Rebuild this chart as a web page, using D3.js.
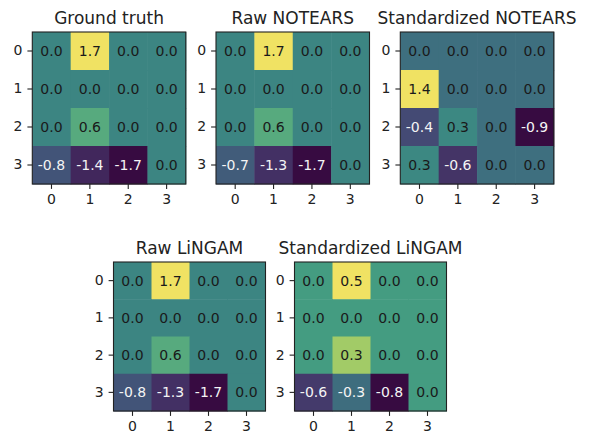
<!DOCTYPE html>
<html>
<head>
  <meta charset="UTF-8">
  <style>
    body {
      margin: 0;
      padding: 0;
      background-color: white;
    }
    svg text {
      font-family: 'DejaVu Sans', sans-serif;
    }
  </style>
</head>
<body>
<svg></svg>
<script src="https://d3js.org/d3.v7.min.js"></script>
<script>
// Adjacency matrices, rows = source index, cols = target index
let indices = [0, 1, 2, 3];
let titles = ["Ground truth", "Raw NOTEARS", "Standardized NOTEARS", "Raw LiNGAM", "Standardized LiNGAM"];

let groundTruth = [
  [0.0, 1.7, 0.0, 0.0],
  [0.0, 0.0, 0.0, 0.0],
  [0.0, 0.6, 0.0, 0.0],
  [-0.8, -1.4, -1.7, 0.0]
];
let rawNotears = [
  [0.0, 1.7, 0.0, 0.0],
  [0.0, 0.0, 0.0, 0.0],
  [0.0, 0.6, 0.0, 0.0],
  [-0.7, -1.3, -1.7, 0.0]
];
let stdNotears = [
  [0.0, 0.0, 0.0, 0.0],
  [1.4, 0.0, 0.0, 0.0],
  [-0.4, 0.3, 0.0, -0.9],
  [0.3, -0.6, 0.0, 0.0]
];
let rawLingam = [
  [0.0, 1.7, 0.0, 0.0],
  [0.0, 0.0, 0.0, 0.0],
  [0.0, 0.6, 0.0, 0.0],
  [-0.8, -1.3, -1.7, 0.0]
];
let stdLingam = [
  [0.0, 0.5, 0.0, 0.0],
  [0.0, 0.0, 0.0, 0.0],
  [0.0, 0.3, 0.0, 0.0],
  [-0.6, -0.3, -0.8, 0.0]
];

let matrices = [groundTruth, rawNotears, stdNotears, rawLingam, stdLingam];

let width = 589, height = 433;
let svg = d3.select("svg")
    .attr("width", width)
    .attr("height", height);

// panel boxes: left, top, width, height
let panels = [
  {x: 32.3, y: 32, w: 153.5, h: 152},
  {x: 216, y: 32, w: 153.5, h: 152},
  {x: 400.3, y: 32, w: 153.5, h: 152},
  {x: 113.5, y: 262, w: 152, h: 149},
  {x: 294.5, y: 262, w: 152, h: 149}
];

let tickLen = 4.9, tickPad = 4.9;

// the picture's colours are a bit washed out compared to plain viridis
function fade(c, s) {
    let rgb = d3.rgb(c);
    let L = 0.299 * rgb.r + 0.587 * rgb.g + 0.114 * rgb.b;
    return d3.rgb(L + s * (rgb.r - L), L + s * (rgb.g - L), L + s * (rgb.b - L)).formatHex();
}

panels.forEach((p, k) => {
    let data = matrices[k];
    let flat = [];
    data.forEach((row, i) => row.forEach((v, j) => flat.push({row: i, col: j, value: v})));

    let x = d3.scaleBand().domain(indices).range([0, p.w]);
    let y = d3.scaleBand().domain(indices).range([0, p.h]);
    let color = d3.scaleSequential(d3.interpolateViridis)
        .domain(d3.extent(flat, d => d.value));

    let g = svg.append("g")
        .attr("transform", "translate(" + p.x + "," + p.y + ")");

    g.selectAll("rect.cell")
        .data(flat)
        .enter()
        .append("rect")
        .attr("class", "cell")
        .attr("x", d => x(d.col))
        .attr("y", d => y(d.row))
        .attr("width", x.bandwidth() + 0.5)
        .attr("height", y.bandwidth() + 0.5)
        .attr("fill", d => fade(color(d.value), 0.65));

    g.selectAll("text.val")
        .data(flat)
        .enter()
        .append("text")
        .attr("class", "val")
        .attr("x", d => x(d.col) + x.bandwidth() / 2)
        .attr("y", d => y(d.row) + y.bandwidth() / 2)
        .attr("text-anchor", "middle")
        .attr("dominant-baseline", "central")
        .attr("font-size", "14px")
        .attr("fill", d => d.value < 0 ? "#f4f4f4" : "#1a1a1a")
        .text(d => d.value.toFixed(1));

    // axes
    let xAxis = d3.axisBottom(x).tickSize(tickLen).tickPadding(tickPad);
    let yAxis = d3.axisLeft(y).tickSize(tickLen).tickPadding(tickPad);

    let gx = g.append("g")
        .attr("transform", "translate(0," + p.h + ")")
        .call(xAxis);
    let gy = g.append("g").call(yAxis);

    [gx, gy].forEach(a => {
        a.select(".domain").remove();
        a.selectAll(".tick line").attr("stroke", "#222").attr("stroke-width", 1.1);
        a.selectAll(".tick text")
            .attr("fill", "#222")
            .attr("font-size", "14px")
            .attr("font-family", "'DejaVu Sans', sans-serif");
    });

    // frame
    g.append("rect")
        .attr("width", p.w)
        .attr("height", p.h)
        .attr("fill", "none")
        .attr("stroke", "#222")
        .attr("stroke-width", 1.1);

    g.append("text")
        .attr("x", p.w / 2)
        .attr("y", -8.3)
        .attr("text-anchor", "middle")
        .attr("font-size", "17px")
        .attr("fill", "#222")
        .text(titles[k]);
});
</script>
</body>
</html>
